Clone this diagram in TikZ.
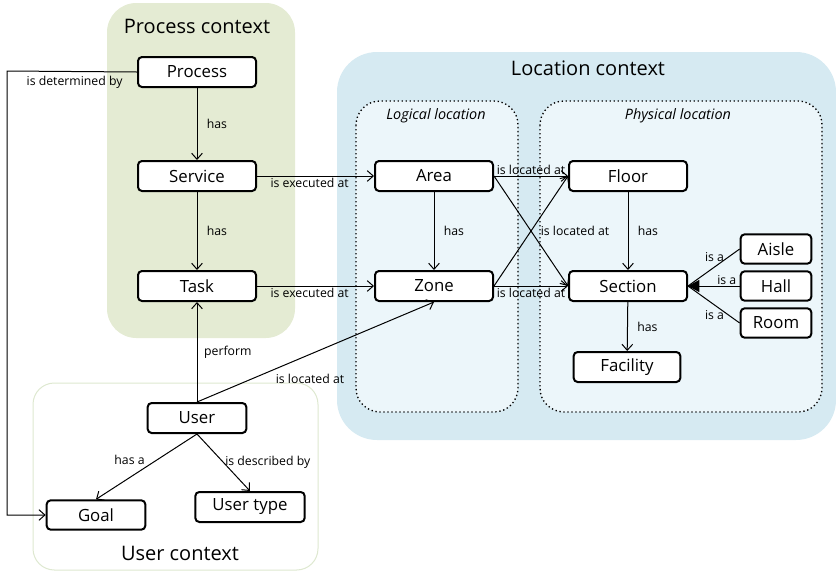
\documentclass[tikz,border=0pt]{standalone}
\usepackage{fontspec}
\setmainfont{Open Sans}
\usetikzlibrary{arrows.meta}

\definecolor{procgreen}{RGB}{228,235,211}
\definecolor{locblue}{RGB}{214,234,242}
\definecolor{locinner}{RGB}{236,246,250}
\definecolor{usergreen}{RGB}{222,232,208}

\tikzset{every picture/.style={line width=0.75pt}}
\tikzset{
  entity/.style={draw, rounded corners=3pt, line width=1.5pt, fill=white, inner sep=0pt,
    minimum width=88.5pt, minimum height=22.5pt, font=\fontsize{12.6}{14}\selectfont},
  rel/.style={font=\fontsize{9.2}{11}\selectfont, inner sep=1pt},
  link/.style={-{Straight Barb[length=4.5pt,width=8pt]}},
  isa/.style={-{Triangle[length=8.5pt,width=9pt]}},
  ctxtitle/.style={font=\fontsize{15}{18}\selectfont},
  subtitle/.style={font=\fontsize{10.8}{13}\selectfont\itshape}
}

\begin{document}
\begin{tikzpicture}[x=0.75pt,y=0.75pt,yscale=-1,xscale=1]
\useasboundingbox (0,0) rectangle (836,572);

% context areas
\draw [draw=none, fill=procgreen, rounded corners=22pt] (107,3) rectangle (295,338);
\draw [draw=none, fill=locblue, rounded corners=30pt] (337,52) rectangle (836,440);
\draw [fill=locinner, dotted, line width=1pt, rounded corners=18pt] (356,101) rectangle (518,412);
\draw [fill=locinner, dotted, line width=1pt, rounded corners=18pt] (540,101) rectangle (822,412);
\draw [draw=usergreen, fill=white, rounded corners=16pt] (33,383) rectangle (318,570);

\node [ctxtitle] (proctitle) at (197,26) {Process context};
\node [ctxtitle] (loctitle) at (588,68) {Location context};
\node [subtitle] (logtitle) at (436,116) {Logical location};
\node [subtitle] (phystitle) at (678,116) {Physical location};
\node [ctxtitle] (usertitle) at (180,553) {User context};

% entities
\node [entity] (process) at (197,72) {Process};
\node [entity] (service) at (197,176) {Service};
\node [entity] (task) at (197,286) {Task};
\node [entity] (area) at (434,176) {Area};
\node [entity] (zone) at (434,286) {Zone};
\node [entity] (floor) at (628,176) {Floor};
\node [entity] (section) at (628,286) {Section};
\node [entity, minimum width=80pt] (facility) at (627,367) {Facility};
\node [entity, minimum width=53pt, minimum height=22pt] (aisle) at (776,249) {Aisle};
\node [entity, minimum width=53pt, minimum height=22pt] (hall) at (776,286) {Hall};
\node [entity, minimum width=53pt, minimum height=22pt] (room) at (776,323) {Room};
\node [entity, minimum width=74pt] (user) at (197,418) {User};
\node [entity, minimum width=74pt, minimum height=22pt] (goal) at (96,515) {Goal};
\node [entity, minimum width=82pt] (usertype) at (250,507) {User type};

% relations
\draw [link] (process) -- node [rel, right, xshift=6pt] {has} (service);
\draw [link] (service) -- node [rel, right, xshift=6pt] {has} (task);
\draw [link] (service) -- node [rel, below, pos=0.45] {is executed at} (area);
\draw [link] (task) -- node [rel, below, pos=0.45] {is executed at} (zone);
\draw [link] (area) -- node [rel, right, xshift=6pt] {has} (zone);
\draw [link] (area) -- node [rel, above] {is located at} (floor);
\draw [link] (zone) -- node [rel, below] {is located at} (section);
\draw [link] (area.east) -- (section.west);
\draw [link] (zone.east) -- node [rel, anchor=west, xshift=6pt] {is located at} (floor.west);
\draw [link] (floor) -- node [rel, right, xshift=6pt] {has} (section);
\draw [link] (section) -- node [rel, right, xshift=6pt] {has} (facility);
% is-a links share one tip
\draw (aisle.west) -- node [rel, above left, pos=0.5, xshift=9pt, yshift=3pt] {is a} (section.east);
\draw (room.west) -- node [rel, below left, pos=0.5, xshift=9pt, yshift=-3pt] {is a} (section.east);
\draw [isa] (hall.west) -- node [rel, above, pos=0.25] {is a} (section.east);
\draw [link] (user) -- node [rel, right, xshift=4pt, pos=0.5] {perform} (task);
\draw [link] (user.north) -- node [rel, anchor=north west, pos=0.28, xshift=8pt, yshift=1pt] {is located at} (zone.south);
\draw [link] (user.south) -- node [rel, above left, pos=0.5] {has a} (goal.north);
\draw [link] (user.south) -- node [rel, right, pos=0.5] {is described by} (usertype.north);
\coordinate (leftbend) at (7,71);
\draw [link] (process.west) -- node [rel, below, pos=0.48, yshift=-2pt] {is determined by} (leftbend) |- (goal.west);

\end{tikzpicture}
\end{document}
